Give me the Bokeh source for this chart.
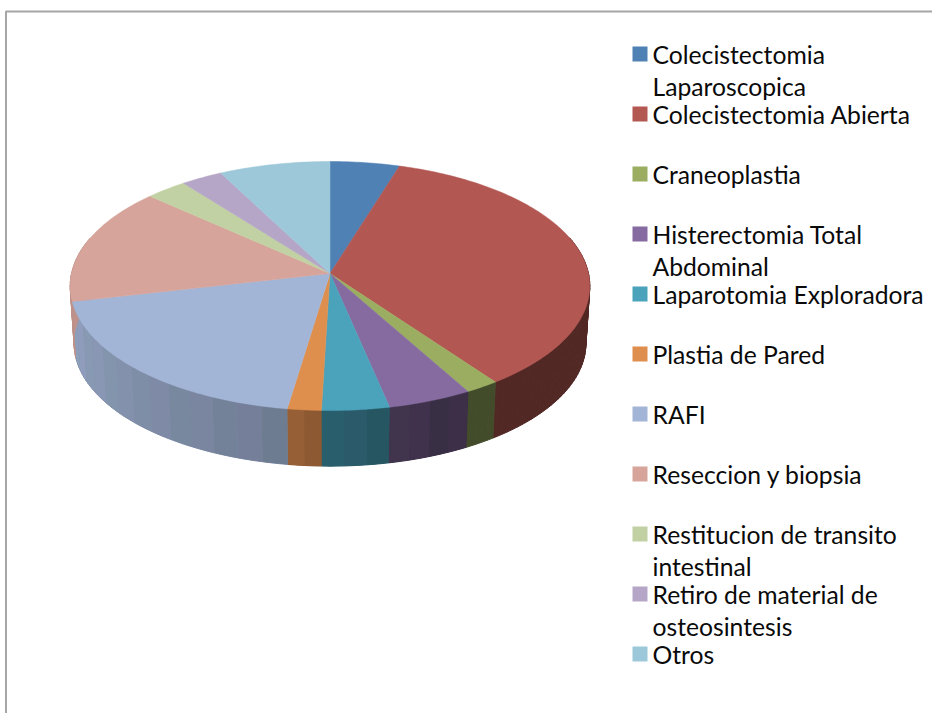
import numpy as np
from bokeh.embed import file_html
from bokeh.models import ColumnDataSource, Range1d
from bokeh.plotting import figure
from bokeh.resources import INLINE
from bokeh.core.properties import value

# Surgical procedures and their case counts
procedures = ["Colecistectomia Laparoscopica", "Colecistectomia Abierta", "Craneoplastia",
              "Histerectomia Total Abdominal", "Laparotomia Exploradora", "Plastia de Pared",
              "RAFI", "Reseccion y biopsia", "Restitucion de transito intestinal",
              "Retiro de material de osteosintesis", "Otros"]
cases = [5, 37, 2, 5, 4, 2, 20, 16, 3, 3, 8]
colors = ["#4f81b5", "#b35752", "#9aad60", "#866ba0", "#4aa2bb", "#df8f4d",
          "#a3b5d6", "#d6a49b", "#c2d1a3", "#b5a6c7", "#9dc8da"]
legend_lines = [["Colecistectomia", "Laparoscopica"], ["Colecistectomia Abierta"], ["Craneoplastia"],
                ["Histerectomia Total", "Abdominal"], ["Laparotomia Exploradora"], ["Plastia de Pared"],
                ["RAFI"], ["Reseccion y biopsia"], ["Restitucion de transito", "intestinal"],
                ["Retiro de material de", "osteosintesis"], ["Otros"]]

W, H = 932, 713
CX, CY = 329.5, 285.5       # centre of the top rim ellipse
RY = 124.5
LIFT = 12.5                 # apex sits above the ellipse centre because of the perspective
K = LIFT / RY
A = 259.8 * np.sqrt(1 - K ** 2)
DEPTH = 57.5
BOTTOM_SCALE = 0.985


def rim(theta, scale=1.0, drop=0.0):
    """Project a clockwise-from-north angle onto the tilted disc."""
    u, v = np.sin(theta), np.cos(theta)
    w = 1 + K * v
    return CX + scale * A * u / w, CY + drop - scale * (RY * v + LIFT) / w


def side_shade(deg):
    return np.interp(deg, [0, 90, 150, 160, 168, 181, 188, 257, 360],
                     [0.46, 0.46, 0.44, 0.45, 0.52, 0.60, 0.68, 0.89, 0.89])


def shaded(color, factor, tint=0.0):
    rgb = [int(color[i:i + 2], 16) for i in (1, 3, 5)]
    rgb = [rgb[0] * factor + tint, rgb[1] * factor, rgb[2] * factor + tint]
    return "#%02x%02x%02x" % tuple(int(np.clip(c, 0, 255)) for c in rgb)


p = figure(width=W, height=H, output_backend="svg", toolbar_location=None,
           x_range=Range1d(0, W), y_range=Range1d(H, 0), min_border=0,
           background_fill_color="white", border_fill_color="white", outline_line_color=None)
p.axis.visible = False
p.grid.visible = False

# Chart frame, running off the page at the right and bottom
p.line([5.5, 5.5, W], [H, 11, 11], line_color="#a6a6a6", line_width=2)

fractions = np.array(cases, dtype=float) / sum(cases)
edges = np.concatenate([[0.0], np.cumsum(fractions)]) * 2 * np.pi


def wall_polygon(a0, a1, samples):
    arc = np.linspace(a0, a1, samples)
    tx, ty = rim(arc)
    bx, by = rim(arc[::-1], BOTTOM_SCALE, DEPTH)
    return np.concatenate([tx, bx]), np.concatenate([ty, by])


# Outer wall: small same-coloured quads per slice keep the silhouette straight at the
# sides, then wider vertical facets give the banding on the lit part
under_xs, under_ys, under_colors = [], [], []
wall_xs, wall_ys, wall_colors = [], [], []
for start, end, color in zip(edges[:-1], edges[1:], colors):
    mid_deg = np.degrees((start + end) / 2)
    flat = shaded(color, float(side_shade(mid_deg)))
    for a0 in np.arange(start, end, np.radians(1.5)):
        a1 = min(a0 + np.radians(1.5), end)
        if np.cos((a0 + a1) / 2) > 0.3:
            continue
        xs, ys = wall_polygon(a0, a1, 2)
        under_xs.append(xs)
        under_ys.append(ys)
        under_colors.append(flat)
    if np.degrees(start) < 150 and np.degrees(end) < 155:
        continue
    n = int(np.ceil((end - start) / np.radians(5.5)))
    steps = np.linspace(start, end, n + 1)
    for a0, a1 in zip(steps[:-1], steps[1:]):
        mid = (a0 + a1) / 2
        if np.cos(mid) > 0.25:
            continue
        xs, ys = wall_polygon(a0, a1, 6)
        wall_xs.append(xs)
        wall_ys.append(ys)
        tint = 2.0 if int(np.degrees(mid) / 5.5) % 2 else -2.0
        wall_colors.append(shaded(color, float(side_shade(np.degrees(mid))), tint))

p.patches(xs="xs", ys="ys", fill_color="c", line_color="c", line_width=1,
          source=ColumnDataSource(dict(xs=under_xs, ys=under_ys, c=under_colors)))
p.patches(xs="xs", ys="ys", fill_color="c", line_color=None,
          source=ColumnDataSource(dict(xs=wall_xs, ys=wall_ys, c=wall_colors)))

# Top face of the pie
apex_x, apex_y = CX, CY - LIFT
top_xs, top_ys = [], []
for start, end in zip(edges[:-1], edges[1:]):
    arc = np.linspace(start, end, max(8, int(np.degrees(end - start))))
    rx, ry = rim(arc)
    top_xs.append(np.concatenate([[apex_x], rx]))
    top_ys.append(np.concatenate([[apex_y], ry]))
p.patches(xs="xs", ys="ys", fill_color="c", line_color="c", line_width=0.5,
          source=ColumnDataSource(dict(xs=top_xs, ys=top_ys, c=colors)))

# Legend drawn in place: one swatch per procedure, labels wrapped on two lines where needed
ROW = 60.0
swatch_y = [53.5 + ROW * i for i in range(len(procedures))]
p.rect(x=[639.5] * len(swatch_y), y=swatch_y, width=15, height=15, fill_color=colors, line_color=None)

label_x, label_y, label_t = [], [], []
for i, lines in enumerate(legend_lines):
    for j, text in enumerate(lines):
        label_x.append(652)
        label_y.append(54 + ROW * i + 31.5 * j)
        label_t.append(text)
p.text(x="x", y="y", text="t", source=ColumnDataSource(dict(x=label_x, y=label_y, t=label_t)),
       text_font=value("Lato"), text_font_size="24.7px", text_color="#0a0a0a",
       text_baseline="alphabetic", text_align="left")

open("out.html", "w").write(file_html(p, INLINE))
